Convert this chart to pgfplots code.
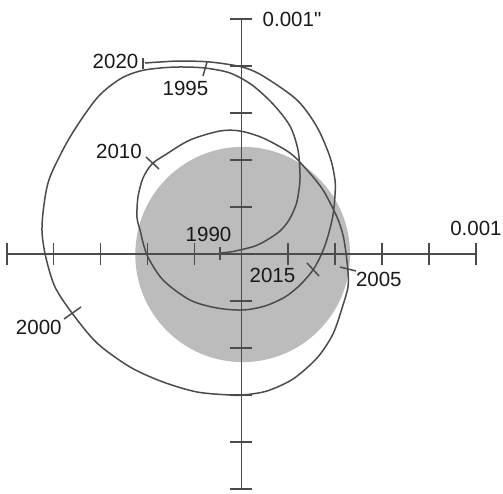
\documentclass[border=0pt]{standalone}
\usepackage{fontspec}
\setmainfont{Liberation Sans}[Ligatures=TeXOff]
\usepackage{pgfplots}
\pgfplotsset{compat=1.18}
\definecolor{ln}{RGB}{75,75,75}
\definecolor{sun}{RGB}{188,188,188}
\definecolor{txt}{RGB}{25,25,25}
\begin{document}
\begin{tikzpicture}
\path[use as bounding box] (-241.3pt,-239pt) rectangle (261.7pt,254pt);
\begin{axis}[anchor=origin, at={(0pt,0pt)}, x=46.9pt, y=47pt,
 xmin=-5, xmax=5, ymin=-5, ymax=5,
 axis lines=middle, axis line style={-, ln, line width=1.5pt},
 xtick={-5,-4,-3,-2,-1,1,2,3,4,5}, ytick={-5,-4,-3,-2,-1,1,2,3,4,5},
 xticklabels={}, yticklabels={},
 major tick length=22pt, tick align=center,
 tick style={ln, line width=1.5pt},
 clip=false, axis on top,
 enlargelimits=false,
]
\fill[sun] (axis cs:0.03,-0.01) ellipse [x radius=2.29, y radius=2.29];
% path of the Sun's centre 1990-2020
\addplot[ln, line width=1.5pt, smooth, tension=0.5] coordinates {
(-0.454,0.021) (-0.241,0.043) (-0.028,0.085) (0.292,0.170) (0.548,0.298)
(0.825,0.489) (1.017,0.723) (1.166,1.043) (1.230,1.362) (1.252,1.681)
(1.209,2.213) (1.038,2.723) (0.676,3.191) (0.228,3.596) (-0.241,3.851)
(-0.774,3.957) (-1.307,3.979) (-1.733,3.957) (-2.160,3.894) (-2.586,3.723)
(-3.077,3.319) (-3.652,2.489) (-4.079,1.638) (-4.208,1.043) (-4.249,0.468)
(-4.164,-0.085) (-3.972,-0.702) (-3.610,-1.255) (-3.077,-1.894) (-2.373,-2.404)
(-1.670,-2.723) (-0.945,-2.936) (-0.241,-3.000) (0.036,-3.000) (0.548,-2.915)
(1.102,-2.660) (1.614,-2.213) (1.955,-1.702) (2.169,-1.085) (2.275,-0.702)
(2.275,-0.383) (2.232,0.021) (2.168,0.404) (2.040,0.787) (1.742,1.362)
(1.401,1.787) (1.038,2.149) (0.463,2.468) (-0.028,2.617) (-0.454,2.617)
(-1.094,2.426) (-1.627,2.106) (-1.904,1.915) (-2.096,1.617) (-2.203,1.213)
(-2.224,0.787) (-2.160,0.511) (-2.010,-0.021) (-1.669,-0.553) (-1.094,-0.979)
(-0.518,-1.149) (0.036,-1.191) (0.505,-1.106) (0.932,-0.915) (1.252,-0.660)
(1.529,-0.340) (1.721,0.021) (1.849,0.383) (1.956,0.830) (1.998,1.255)
(1.998,1.574) (1.891,2.064) (1.614,2.702) (1.188,3.277) (0.463,3.787)
(0.015,3.979) (-0.667,4.085) (-1.307,4.106) (-1.733,4.085) (-2.053,4.064)
};
% year ticks
\addplot[ln, line width=1.5pt] coordinates {(-0.454,0.149) (-0.454,-0.128)};
\addplot[ln, line width=1.5pt] coordinates {(-0.731,4.085) (-0.817,3.787)};
\addplot[ln, line width=1.5pt] coordinates {(-3.780,-1.383) (-3.418,-1.128)};
\addplot[ln, line width=1.5pt] coordinates {(2.104,-0.277) (2.446,-0.362)};
\addplot[ln, line width=1.5pt] coordinates {(-2.032,2.064) (-1.755,1.809)};
\addplot[ln, line width=1.5pt] coordinates {(1.401,-0.191) (1.657,-0.468)};
\addplot[ln, line width=1.5pt] coordinates {(-2.096,4.170) (-2.096,3.936)};
% labels
\begin{scope}[every node/.style={font=\fontsize{20.5}{24}\selectfont, text=txt, inner sep=0pt}]
\node at (axis cs:-2.682,4.091) {2020};
\node at (axis cs:-1.190,3.517) {1995};
\node at (axis cs:-2.608,2.177) {2010};
\node at (axis cs:-0.699,0.426) {1990};
\node at (axis cs:0.665,-0.462) {2015};
\node at (axis cs:2.932,-0.532) {2005};
\node at (axis cs:-4.318,-1.564) {2000};
\node at (axis cs:1.081,5.0) {0.001"};
\node at (axis cs:5.004,0.547) {0.001};
\end{scope}
\end{axis}
\end{tikzpicture}
\end{document}
